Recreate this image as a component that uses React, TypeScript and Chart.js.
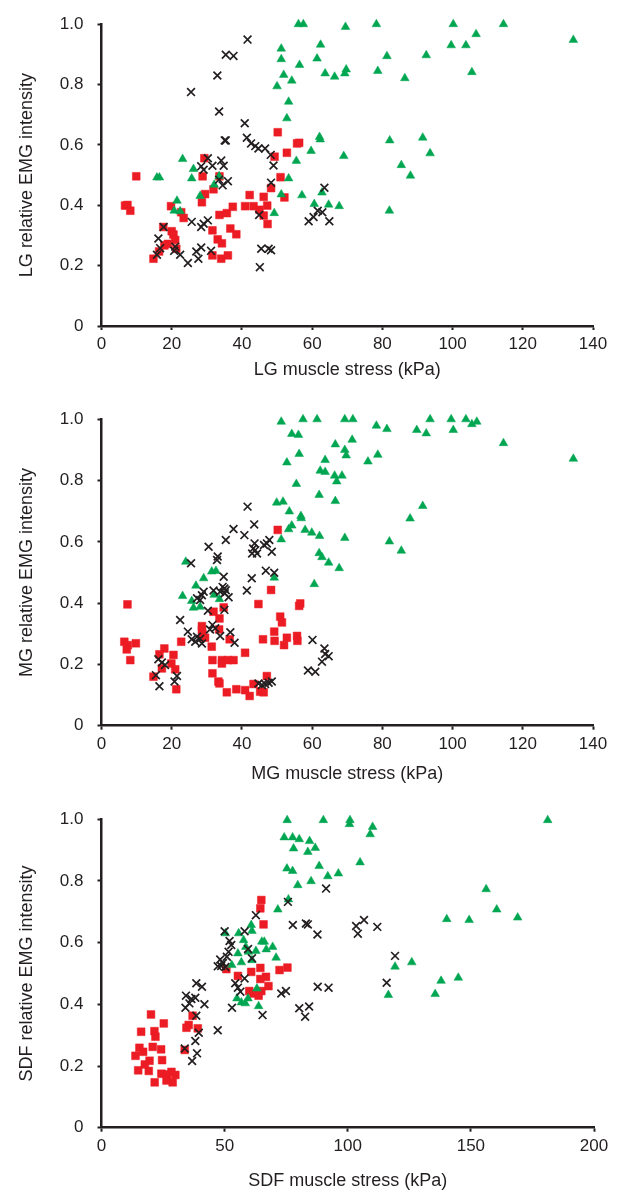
import React, { useEffect, useRef } from "react";
import { Chart, registerables } from "chart.js";

Chart.register(...registerables);

// ---------- LG panel ----------
const lgCrossX = [41.6, 35.4, 37.6, 33.0, 25.5, 33.5, 40.8, 35.1, 35.4, 41.4, 42.6, 43.8, 44.7, 46.6, 48.2, 49.0, 30.3, 28.4, 29.1, 31.6, 34.1, 34.8, 33.5, 34.5, 36.0, 48.3, 63.5, 25.7, 28.4, 29.1, 30.3, 17.7, 16.2, 16.7, 15.8, 21.0, 20.7, 22.4, 24.6, 27.0, 28.4, 27.6, 31.2, 44.9, 45.5, 47.6, 48.3, 45.1, 59.0, 60.4, 61.6, 62.9, 64.9];
const lgCrossY = [0.949, 0.899, 0.895, 0.830, 0.775, 0.711, 0.672, 0.615, 0.615, 0.624, 0.605, 0.596, 0.588, 0.588, 0.567, 0.532, 0.556, 0.529, 0.518, 0.531, 0.548, 0.531, 0.485, 0.466, 0.480, 0.475, 0.458, 0.345, 0.328, 0.339, 0.350, 0.328, 0.290, 0.258, 0.236, 0.263, 0.249, 0.236, 0.209, 0.247, 0.260, 0.223, 0.249, 0.368, 0.256, 0.256, 0.251, 0.195, 0.347, 0.361, 0.382, 0.377, 0.347];

const lgSquareX = [9.9, 6.7, 7.4, 8.2, 50.2, 52.8, 55.7, 56.3, 49.3, 29.3, 28.8, 33.6, 31.9, 29.5, 28.6, 19.8, 22.7, 23.4, 17.6, 20.0, 20.5, 21.0, 18.9, 17.9, 16.4, 21.3, 14.8, 33.6, 35.7, 37.4, 31.6, 33.1, 34.3, 36.7, 38.4, 31.6, 34.1, 36.0, 40.9, 43.3, 42.2, 46.2, 47.2, 46.2, 47.3, 45.0, 48.3, 51.0, 52.1];
const lgSquareY = [0.496, 0.399, 0.401, 0.382, 0.642, 0.574, 0.605, 0.607, 0.561, 0.556, 0.496, 0.496, 0.453, 0.437, 0.410, 0.397, 0.377, 0.358, 0.328, 0.314, 0.303, 0.285, 0.272, 0.267, 0.247, 0.256, 0.223, 0.368, 0.374, 0.395, 0.317, 0.287, 0.274, 0.323, 0.304, 0.234, 0.223, 0.234, 0.397, 0.397, 0.434, 0.428, 0.399, 0.366, 0.338, 0.385, 0.457, 0.493, 0.426];

const lgTriX = [23.1, 15.8, 16.5, 26.2, 25.7, 33.5, 32.1, 28.1, 21.5, 20.7, 22.4, 51.2, 51.2, 51.9, 54.2, 50.0, 53.3, 52.8, 56.1, 57.5, 62.4, 61.4, 56.4, 63.7, 66.4, 69.3, 69.7, 69.5, 62.1, 62.3, 59.7, 55.5, 53.3, 51.2, 49.2, 57.1, 60.6, 62.8, 64.7, 67.7, 69.0, 78.3, 100.2, 114.5, 106.7, 99.6, 103.8, 134.4, 81.3, 92.5, 78.7, 86.4, 105.5, 82.1, 91.5, 93.6, 85.4, 88.0, 82.0];
const lgTriY = [0.553, 0.492, 0.492, 0.520, 0.489, 0.496, 0.468, 0.431, 0.415, 0.382, 0.380, 0.919, 0.884, 0.832, 0.813, 0.794, 0.743, 0.688, 1.0, 1.0, 0.932, 0.886, 0.865, 0.837, 0.826, 0.837, 0.850, 0.991, 0.626, 0.618, 0.580, 0.547, 0.489, 0.436, 0.374, 0.433, 0.404, 0.442, 0.402, 0.397, 0.563, 1.0, 1.0, 1.0, 0.967, 0.930, 0.930, 0.948, 0.894, 0.897, 0.845, 0.821, 0.841, 0.615, 0.624, 0.572, 0.533, 0.498, 0.382];

// ---------- MG panel ----------
const mgCrossX = [41.6, 37.6, 43.5, 40.7, 35.4, 30.5, 33.1, 32.9, 25.5, 43.6, 43.2, 42.9, 44.3, 43.8, 47.1, 47.8, 46.3, 48.5, 46.8, 49.2, 42.8, 41.4, 34.8, 34.5, 35.0, 35.4, 33.8, 35.1, 36.2, 31.9, 29.1, 28.6, 27.2, 28.1, 30.3, 35.0, 31.6, 32.4, 30.9, 22.4, 24.6, 25.7, 27.2, 28.1, 28.6, 26.7, 33.8, 36.7, 37.9, 16.2, 17.2, 18.1, 15.5, 16.5, 21.5, 20.8, 44.7, 45.7, 46.6, 47.6, 48.5, 60.1, 63.5, 63.7, 64.7, 62.8, 58.8, 60.9];
const mgCrossY = [0.715, 0.642, 0.657, 0.622, 0.606, 0.584, 0.552, 0.541, 0.530, 0.595, 0.578, 0.562, 0.562, 0.573, 0.595, 0.606, 0.590, 0.568, 0.506, 0.499, 0.481, 0.441, 0.486, 0.453, 0.448, 0.442, 0.437, 0.432, 0.419, 0.441, 0.437, 0.426, 0.416, 0.410, 0.375, 0.378, 0.329, 0.318, 0.314, 0.345, 0.307, 0.282, 0.290, 0.284, 0.268, 0.274, 0.293, 0.305, 0.271, 0.217, 0.206, 0.198, 0.165, 0.129, 0.162, 0.144, 0.138, 0.133, 0.136, 0.140, 0.144, 0.280, 0.252, 0.234, 0.227, 0.209, 0.180, 0.176];

const mgSquareX = [7.4, 6.5, 7.5, 7.2, 9.8, 8.2, 50.2, 48.3, 44.7, 56.6, 56.3, 50.9, 51.4, 49.2, 46.0, 49.3, 52.8, 52.0, 55.7, 55.8, 34.8, 31.9, 33.6, 28.6, 28.6, 28.8, 29.5, 33.5, 36.5, 22.7, 31.4, 31.6, 34.3, 34.3, 36.0, 37.6, 40.9, 17.9, 16.5, 20.5, 19.9, 21.0, 17.2, 14.8, 21.3, 31.6, 33.3, 33.6, 35.7, 38.4, 40.9, 42.2, 43.3, 45.2, 46.2, 47.1];
const mgSquareY = [0.396, 0.274, 0.263, 0.249, 0.269, 0.214, 0.639, 0.443, 0.397, 0.399, 0.391, 0.356, 0.337, 0.307, 0.282, 0.277, 0.287, 0.263, 0.293, 0.277, 0.386, 0.372, 0.350, 0.325, 0.312, 0.299, 0.287, 0.314, 0.282, 0.274, 0.258, 0.214, 0.214, 0.203, 0.214, 0.214, 0.238, 0.252, 0.233, 0.231, 0.203, 0.184, 0.187, 0.160, 0.119, 0.171, 0.144, 0.138, 0.109, 0.119, 0.116, 0.097, 0.136, 0.111, 0.109, 0.162];

const mgTriX = [24.0, 23.1, 25.7, 26.2, 26.9, 29.1, 28.1, 31.4, 32.6, 32.1, 33.6, 49.2, 51.2, 53.3, 54.2, 51.2, 57.4, 61.4, 54.2, 56.1, 56.3, 52.8, 55.5, 49.9, 51.7, 53.5, 56.8, 56.9, 58.0, 59.9, 62.1, 62.0, 66.6, 63.7, 62.3, 63.7, 66.4, 68.5, 67.0, 66.6, 62.0, 62.8, 64.7, 67.7, 60.6, 69.3, 71.6, 78.3, 81.3, 89.8, 92.5, 93.6, 99.6, 103.8, 105.5, 106.9, 100.2, 114.5, 134.4, 71.4, 69.3, 69.7, 78.7, 75.9, 91.5, 87.9, 69.3, 82.0, 85.4];
const mgTriY = [0.535, 0.423, 0.407, 0.385, 0.457, 0.481, 0.388, 0.503, 0.505, 0.427, 0.413, 0.483, 0.608, 0.641, 0.653, 0.992, 1.0, 1.0, 0.952, 0.949, 0.887, 0.859, 0.789, 0.728, 0.731, 0.699, 0.684, 0.677, 0.639, 0.630, 0.619, 0.753, 0.918, 0.867, 0.832, 0.828, 0.816, 0.816, 0.797, 0.733, 0.563, 0.550, 0.532, 0.514, 0.462, 1.0, 1.0, 0.979, 0.968, 0.965, 0.954, 1.0, 1.0, 1.0, 0.984, 0.992, 0.965, 0.922, 0.871, 0.933, 0.900, 0.882, 0.884, 0.862, 0.717, 0.676, 0.613, 0.601, 0.571];

// ---------- SDF panel ----------
const sdfCrossX = [91.2, 75.7, 62.7, 50.0, 58.1, 77.7, 83.0, 83.8, 87.7, 52.0, 52.7, 51.6, 50.9, 48.2, 49.3, 48.6, 50.3, 47.2, 59.5, 61.1, 58.1, 54.3, 55.4, 56.4, 73.0, 74.9, 87.8, 92.2, 53.0, 65.4, 80.3, 84.3, 82.7, 38.5, 40.8, 34.3, 36.5, 38.1, 35.7, 34.1, 41.8, 38.5, 39.5, 38.1, 33.8, 38.8, 36.8, 47.2, 103.4, 106.6, 104.1, 112.0, 119.2, 115.8];
const sdfCrossY = [0.775, 0.732, 0.689, 0.637, 0.637, 0.657, 0.662, 0.659, 0.626, 0.605, 0.592, 0.570, 0.554, 0.545, 0.534, 0.524, 0.521, 0.523, 0.579, 0.549, 0.484, 0.468, 0.454, 0.441, 0.435, 0.443, 0.457, 0.454, 0.389, 0.365, 0.387, 0.393, 0.360, 0.468, 0.457, 0.428, 0.417, 0.421, 0.403, 0.389, 0.400, 0.363, 0.308, 0.281, 0.257, 0.241, 0.216, 0.316, 0.654, 0.673, 0.629, 0.651, 0.557, 0.470];

const sdfSquareX = [64.9, 64.5, 65.8, 50.7, 55.4, 60.8, 64.5, 72.3, 75.5, 66.8, 64.5, 67.8, 60.0, 61.8, 63.8, 64.9, 37.0, 35.4, 34.5, 39.1, 33.8, 20.1, 25.3, 16.1, 21.5, 21.9, 15.4, 16.9, 13.8, 20.8, 24.2, 19.5, 17.6, 24.6, 14.9, 19.2, 24.3, 26.6, 28.4, 30.0, 26.4, 28.9, 21.6];
const sdfSquareY = [0.738, 0.711, 0.659, 0.514, 0.492, 0.505, 0.518, 0.511, 0.519, 0.489, 0.482, 0.459, 0.443, 0.435, 0.428, 0.443, 0.363, 0.333, 0.324, 0.322, 0.252, 0.367, 0.338, 0.311, 0.313, 0.295, 0.259, 0.246, 0.233, 0.262, 0.254, 0.217, 0.205, 0.219, 0.186, 0.184, 0.175, 0.173, 0.181, 0.171, 0.153, 0.147, 0.147];

const sdfTriX = [75.4, 90.1, 74.2, 77.6, 80.3, 84.5, 78.0, 83.8, 86.8, 75.3, 77.6, 88.4, 91.9, 96.2, 85.1, 79.7, 75.9, 71.6, 50.3, 55.7, 60.8, 61.1, 57.7, 58.6, 59.7, 61.1, 55.4, 52.9, 56.8, 62.7, 65.1, 66.1, 66.9, 69.5, 70.9, 63.1, 55.0, 56.8, 58.4, 59.5, 63.8, 100.9, 100.7, 110.1, 109.1, 181.2, 105.0, 156.2, 160.5, 169.0, 140.2, 149.3, 119.2, 126.0, 116.5, 137.9, 144.9, 135.5];
const sdfTriY = [0.997, 0.997, 0.941, 0.941, 0.935, 0.929, 0.905, 0.894, 0.907, 0.840, 0.832, 0.848, 0.815, 0.824, 0.799, 0.786, 0.740, 0.707, 0.630, 0.630, 0.657, 0.638, 0.608, 0.586, 0.570, 0.543, 0.565, 0.527, 0.536, 0.573, 0.603, 0.603, 0.578, 0.586, 0.551, 0.451, 0.419, 0.406, 0.403, 0.419, 0.394, 0.997, 0.984, 0.975, 0.951, 0.997, 0.860, 0.773, 0.707, 0.681, 0.676, 0.673, 0.522, 0.536, 0.430, 0.476, 0.486, 0.433];

const yTicks = [0, 0.2, 0.4, 0.6, 0.8, 1.0];

const RED = "#ec1c24";
const GREEN = "#00a651";
const BLACK = "#231f20";
const FONT = "'Liberation Sans', Arial, Helvetica, sans-serif";

function pts(xs: number[], ys: number[]) {
  return xs.map((x, i) => ({ x, y: ys[i] }));
}

type PanelProps = {
  height: number;
  areaTop: number;
  xAxisHeight: number;
  titleBottomPad: number;
  rightPad: number;
  xMax: number;
  xStep: number;
  xTitle: string;
  yTitle: string;
  crossX: number[];
  crossY: number[];
  squareX: number[];
  squareY: number[];
  triX: number[];
  triY: number[];
};

function Panel(p: PanelProps) {
  const ref = useRef<HTMLCanvasElement | null>(null);
  useEffect(() => {
    if (!ref.current) return;
    const chart = new Chart(ref.current, {
      type: "scatter",
      data: {
        datasets: [
          {
            data: pts(p.crossX, p.crossY),
            pointStyle: "crossRot",
            pointRadius: 5.5,
            borderColor: BLACK,
            backgroundColor: BLACK,
            borderWidth: 1.7,
            clip: false,
          },
          {
            data: pts(p.triX, p.triY),
            pointStyle: "triangle",
            pointRadius: 5,
            borderColor: GREEN,
            backgroundColor: GREEN,
            borderWidth: 0.5,
            clip: false,
          },
          {
            data: pts(p.squareX, p.squareY),
            pointStyle: "rect",
            pointRadius: 5.5,
            borderColor: RED,
            backgroundColor: RED,
            borderWidth: 0.5,
            clip: false,
          },
        ],
      },
      options: {
        responsive: false,
        animation: false,
        devicePixelRatio: 1,
        layout: { padding: { top: p.areaTop, right: p.rightPad, left: 0, bottom: 0 } },
        plugins: { legend: { display: false }, tooltip: { enabled: false } },
        scales: {
          x: {
            type: "linear",
            min: 0,
            max: p.xMax,
            afterFit: (s: any) => {
              s.height = p.xAxisHeight;
            },
            afterBuildTicks: (s: any) => {
              const t = [];
              for (let v = 0; v <= p.xMax; v += p.xStep) t.push({ value: v });
              s.ticks = t;
            },
            border: { display: true, color: BLACK, width: 2.5 },
            grid: {
              drawOnChartArea: false,
              drawTicks: true,
              tickLength: 4,
              tickWidth: 2,
              tickColor: BLACK,
            },
            ticks: {
              color: BLACK,
              padding: 4,
              font: { family: FONT, size: 17 },
              maxRotation: 0,
              callback: (v: any) => String(v),
            },
            title: {
              display: true,
              text: p.xTitle,
              color: BLACK,
              font: { family: FONT, size: 18 },
              padding: { top: 0, bottom: p.titleBottomPad },
            },
          },
          y: {
            type: "linear",
            min: 0,
            max: 1,
            afterFit: (s: any) => {
              s.width = 101.5;
            },
            afterBuildTicks: (s: any) => {
              s.ticks = yTicks.map((v) => ({ value: v }));
            },
            border: { display: true, color: BLACK, width: 2.5 },
            grid: {
              drawOnChartArea: false,
              drawTicks: true,
              tickLength: 4,
              tickWidth: 2,
              tickColor: BLACK,
            },
            ticks: {
              color: BLACK,
              padding: 14,
              font: { family: FONT, size: 17 },
              callback: (v: any) => (Number(v) === 0 ? "0" : Number(v).toFixed(1)),
            },
            title: {
              display: true,
              text: p.yTitle,
              color: BLACK,
              font: { family: FONT, size: 18 },
              padding: { top: 16, bottom: 0 },
            },
          },
        },
      },
    } as any);
    return () => chart.destroy();
  }, []);
  return <canvas ref={ref} width={624} height={p.height} style={{ display: "block" }} />;
}

export default function App() {
  return (
    <div style={{ position: "absolute", left: 0, top: 0, width: 624, height: 1194, background: "#fff" }}>
      <Panel
        height={395}
        areaTop={18.3}
        xAxisHeight={69}
        titleBottomPad={14}
        rightPad={31}
        xMax={140}
        xStep={20}
        xTitle="LG muscle stress (kPa)"
        yTitle="LG relative EMG intensity"
        crossX={lgCrossX}
        crossY={lgCrossY}
        squareX={lgSquareX}
        squareY={lgSquareY}
        triX={lgTriX}
        triY={lgTriY}
      />
      <Panel
        height={400}
        areaTop={24.3}
        xAxisHeight={69.3}
        titleBottomPad={10}
        rightPad={31}
        xMax={140}
        xStep={20}
        xTitle="MG muscle stress (kPa)"
        yTitle="MG relative EMG intensity"
        crossX={mgCrossX}
        crossY={mgCrossY}
        squareX={mgSquareX}
        squareY={mgSquareY}
        triX={mgTriX}
        triY={mgTriY}
      />
      <Panel
        height={399}
        areaTop={24}
        xAxisHeight={66.3}
        titleBottomPad={2}
        rightPad={30}
        xMax={200}
        xStep={50}
        xTitle="SDF muscle stress (kPa)"
        yTitle="SDF relative EMG intensity"
        crossX={sdfCrossX}
        crossY={sdfCrossY}
        squareX={sdfSquareX}
        squareY={sdfSquareY}
        triX={sdfTriX}
        triY={sdfTriY}
      />
    </div>
  );
}
